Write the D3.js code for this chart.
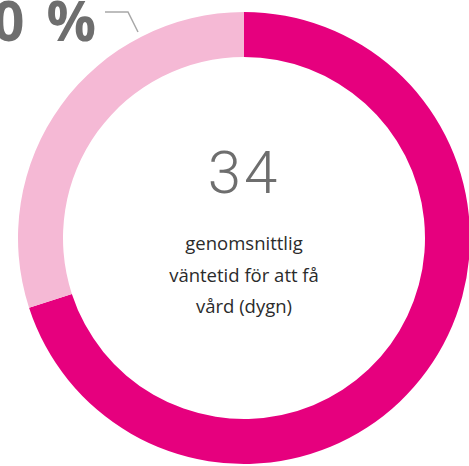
<!DOCTYPE html>
<html>
<head>
<meta charset="utf-8">
<script src="https://cdn.jsdelivr.net/npm/d3@7"></script>
<style>
  body { margin: 0; background: #fff; }
  svg { display: block; }
</style>
</head>
<body>
<svg id="chart"></svg>
<script>
const width = 469;
const height = 466;

// share of patients, dark segment first (clockwise from top)
const categories = ["Övriga", "Andel"];
const values = [70, 30];
const colors = ["#e6007e", "#f5b9d5"];
const centerValue = "34";
const centerLines = ["genomsnittlig", "väntetid för att få", "vård (dygn)"];
const calloutValue = "30";
const calloutUnit = "%";

const cx = 244, cy = 238;
const outerR = 226, innerR = 181;

const svg = d3.select("#chart")
    .attr("width", width)
    .attr("height", height);

const pie = d3.pie().sort(null).value(d => d);
const arc = d3.arc().innerRadius(innerR).outerRadius(outerR);

const g = svg.append("g").attr("transform", `translate(${cx},${cy})`);

g.selectAll("path")
    .data(pie(values))
    .join("path")
    .attr("d", arc)
    .attr("fill", (d, i) => colors[i]);

// centre number
g.append("text")
    .attr("x", 0)
    .attr("y", -45)
    .attr("text-anchor", "middle")
    .attr("font-family", "Roboto")
    .attr("font-weight", 300)
    .attr("font-size", 60)
    .attr("letter-spacing", 3)
    .attr("fill", "#6e6e6e")
    .text(centerValue);

g.selectAll(".desc")
    .data(centerLines)
    .join("text")
    .attr("class", "desc")
    .attr("x", 0)
    .attr("y", (d, i) => 12 + i * 31.5)
    .attr("text-anchor", "middle")
    .attr("font-family", "Open Sans")
    .attr("font-size", 18.5)
    .attr("fill", "#2b2b2b")
    .text(d => d);

// callout for the light segment
svg.append("polyline")
    .attr("points", "105,12 128,12 138,32")
    .attr("fill", "none")
    .attr("stroke", "#a8a8a8")
    .attr("stroke-width", 1.5);

const callout = svg.append("text")
    .attr("x", 96)
    .attr("y", 41)
    .attr("text-anchor", "end")
    .attr("font-family", "Open Sans")
    .attr("font-weight", 700)
    .attr("font-size", 55)
    .attr("fill", "#6e6e6e");
callout.append("tspan").text(calloutValue);
callout.append("tspan").attr("dx", 22).text(calloutUnit);
</script>
</body>
</html>
